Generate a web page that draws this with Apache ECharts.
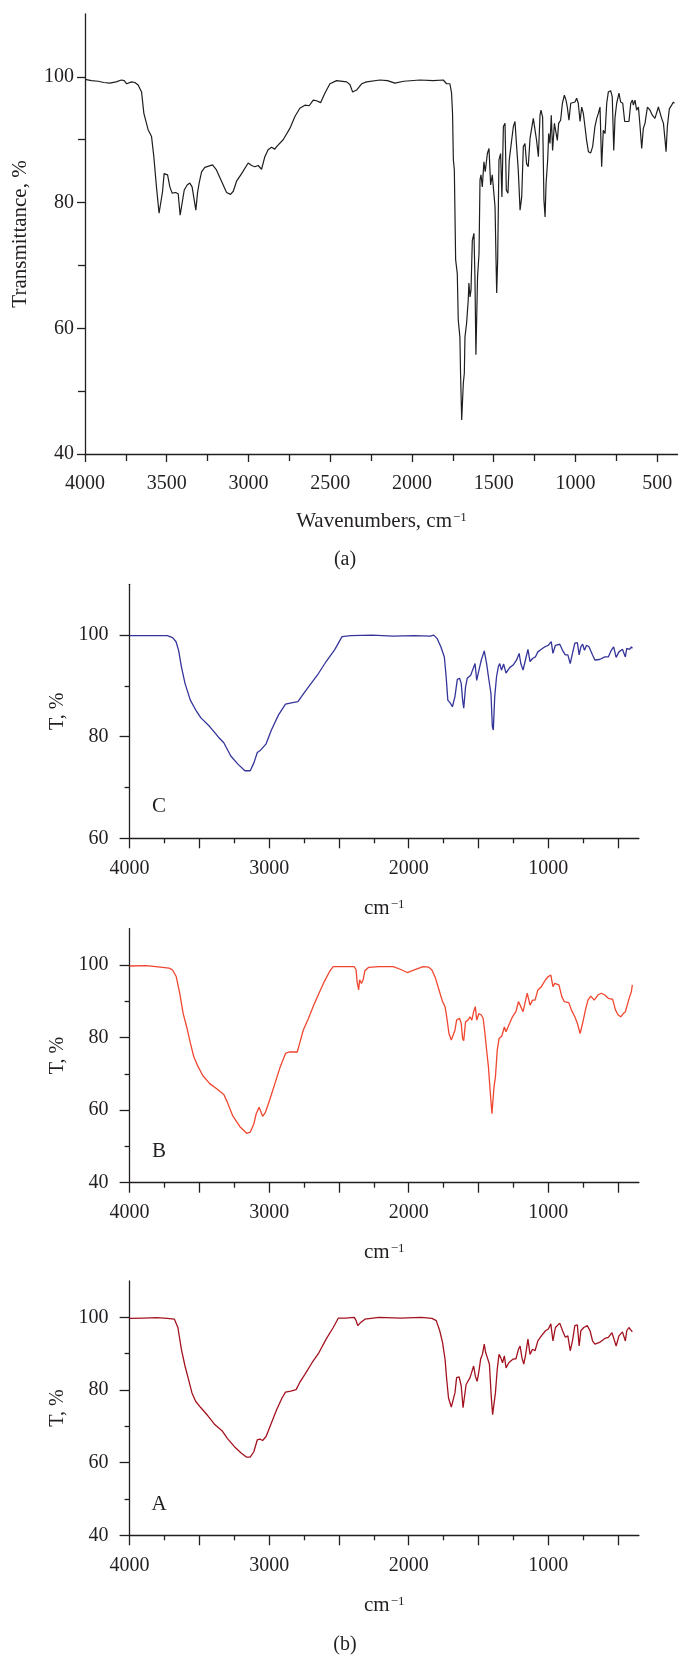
<!DOCTYPE html>
<html><head><meta charset="utf-8">
<script src="https://cdn.jsdelivr.net/npm/echarts@6/dist/echarts.min.js"></script>
<style>html,body{margin:0;padding:0;background:#fff}#chart{width:678px;height:1659px}</style>
</head><body><div id="chart"></div>
<script>
// ---------- DATA ----------
// Panel (a): [wavenumber cm-1, transmittance %]
const spectrumTop = [
[4000,99.6],[3960,99.4],[3920,99.3],[3885,99.1],[3848,99.0],[3810,99.2],[3777,99.5],[3760,99.4],[3745,98.9],[3736,98.8],[3715,99.2],[3695,99.1],[3675,98.7],[3654,97.6],[3640,94.2],[3614,91.6],[3593,90.5],[3579,87.3],[3563,82.5],[3547,78.3],[3536,78.0],[3526,81.7],[3516,84.6],[3506,84.9],[3495,84.4],[3481,82.5],[3467,81.5],[3446,81.6],[3430,81.4],[3418,78.0],[3408,78.3],[3393,82.0],[3375,82.8],[3359,83.1],[3345,82.5],[3332,80.4],[3322,78.8],[3312,81.5],[3302,83.1],[3287,84.9],[3267,85.6],[3220,86.0],[3196,85.2],[3165,83.4],[3134,81.6],[3110,81.3],[3093,81.8],[3073,83.4],[3042,84.6],[3002,86.3],[2981,85.9],[2961,85.7],[2941,85.9],[2920,85.3],[2900,87.3],[2880,88.4],[2859,88.8],[2839,88.5],[2828,88.9],[2788,90.0],[2747,91.8],[2716,93.7],[2686,95.0],[2655,95.5],[2629,95.4],[2604,96.3],[2584,96.2],[2559,95.9],[2533,97.4],[2502,98.9],[2461,99.4],[2400,99.2],[2380,98.8],[2363,97.6],[2339,97.9],[2308,98.9],[2278,99.2],[2196,99.5],[2150,99.4],[2105,99.0],[2050,99.3],[1951,99.5],[1870,99.4],[1809,99.5],[1788,98.9],[1778,98.7],[1768,98.9],[1758,97.4],[1752,94.2],[1747,86.8],[1741,85.2],[1733,70.9],[1723,68.7],[1717,61.3],[1707,58.6],[1703,52.8],[1696,45.4],[1690,45.7],[1686,51.3],[1680,52.8],[1676,58.6],[1666,60.8],[1656,64.5],[1652,67.2],[1645,65.0],[1639,66.1],[1631,74.0],[1621,75.1],[1615,68.2],[1609,55.8],[1603,55.8],[1599,68.2],[1590,71.9],[1584,83.6],[1578,84.4],[1570,82.5],[1560,86.5],[1552,84.9],[1539,87.8],[1529,88.6],[1519,82.8],[1509,84.4],[1501,84.1],[1492,79.3],[1486,70.9],[1482,65.6],[1476,70.9],[1468,86.8],[1458,87.8],[1450,80.9],[1441,92.1],[1431,92.6],[1423,82.0],[1413,81.5],[1405,86.8],[1390,90.0],[1380,92.1],[1370,92.9],[1360,88.9],[1350,85.2],[1339,78.8],[1329,80.9],[1319,88.9],[1309,89.4],[1299,86.2],[1289,85.7],[1278,90.2],[1268,90.0],[1258,93.4],[1248,93.1],[1238,89.9],[1227,87.3],[1217,93.9],[1211,94.7],[1201,93.6],[1193,80.4],[1186,77.7],[1180,83.0],[1170,86.8],[1164,91.0],[1156,89.4],[1148,93.9],[1140,88.3],[1129,92.6],[1119,92.9],[1111,89.9],[1103,92.6],[1091,93.1],[1080,95.8],[1068,97.1],[1058,96.3],[1050,95.2],[1040,93.1],[1029,95.8],[1017,95.5],[1003,96.0],[993,96.6],[983,95.8],[972,92.9],[962,95.2],[952,94.2],[942,92.1],[932,89.9],[921,88.1],[907,87.9],[895,88.9],[881,92.1],[870,93.4],[860,94.2],[850,95.2],[840,85.7],[830,91.5],[819,91.0],[809,95.8],[799,97.6],[785,97.8],[775,96.8],[766,88.3],[758,93.6],[748,95.8],[734,97.4],[724,96.0],[711,95.8],[699,92.9],[687,93.1],[673,92.9],[662,95.8],[652,96.3],[646,95.5],[636,96.3],[626,94.7],[615,95.2],[605,92.1],[595,88.6],[585,91.8],[575,92.6],[560,95.2],[544,94.7],[530,93.9],[514,93.4],[503,93.4],[493,95.2],[483,94.9],[473,93.4],[462,92.6],[452,89.9],[446,88.1],[438,92.1],[426,94.9],[412,95.5],[401,96.0],[395,95.8]
];
// Panel (b), trace C
const spectrumC = [
[4000,99.9],[3900,99.9],[3800,99.9],[3730,99.9],[3692,99.5],[3667,98.7],[3649,97.0],[3629,93.8],[3603,90.5],[3565,87.2],[3527,85.3],[3489,83.7],[3426,82.0],[3363,79.9],[3325,78.8],[3275,76.2],[3224,74.6],[3174,73.3],[3136,73.3],[3110,74.8],[3085,76.9],[3060,77.4],[3022,78.6],[2984,81.3],[2933,84.3],[2883,86.4],[2832,86.7],[2794,86.9],[2756,88.4],[2718,89.8],[2655,92.1],[2592,94.8],[2529,97.2],[2478,99.7],[2415,99.9],[2263,100],[2112,99.8],[1960,99.9],[1846,99.8],[1821,100],[1796,99.3],[1770,97.7],[1745,95.7],[1732,91.8],[1720,87.2],[1702,86.6],[1687,85.9],[1669,87.9],[1652,91.3],[1636,91.5],[1624,90.5],[1614,87.2],[1606,85.6],[1593,89.8],[1581,91.5],[1556,92.1],[1543,93.1],[1525,94.4],[1513,91.1],[1497,93.1],[1480,95.1],[1459,96.9],[1442,94.4],[1429,91.8],[1411,88.5],[1401,82.0],[1394,81.3],[1384,87.9],[1371,91.8],[1358,93.8],[1348,94.4],[1336,93.1],[1320,94.3],[1303,92.5],[1277,93.6],[1252,94.1],[1227,95.1],[1209,96.4],[1197,94.4],[1181,93.1],[1164,95.1],[1146,97.2],[1131,94.8],[1113,95.4],[1093,95.7],[1075,96.7],[1050,97.2],[1025,97.7],[1000,98.0],[979,98.7],[967,96.4],[949,98.0],[918,98.2],[898,97.0],[878,96.1],[860,96.1],[843,94.4],[827,96.4],[810,98.4],[792,98.5],[779,96.1],[767,97.7],[754,98.2],[741,97.0],[726,98.0],[709,97.7],[683,96.1],[666,95.1],[633,95.2],[595,95.7],[570,95.7],[549,97.0],[532,97.7],[514,95.6],[494,96.7],[469,97.2],[448,95.7],[438,97.4],[418,97.2],[405,97.7],[398,97.4]
];
// Panel (b), trace B
const spectrumB = [
[4000,99.7],[3881,99.8],[3780,99.4],[3717,99.1],[3692,98.6],[3666,96.8],[3641,92.2],[3616,86.6],[3591,82.9],[3565,78.5],[3540,74.7],[3515,72.4],[3477,69.6],[3426,67.3],[3376,65.9],[3325,64.3],[3300,62.2],[3262,58.5],[3211,55.5],[3161,53.6],[3136,53.9],[3110,56.2],[3093,59.0],[3072,60.8],[3060,60.4],[3047,58.3],[3027,59.4],[2997,62.7],[2959,67.3],[2921,71.9],[2883,75.6],[2857,76.0],[2799,76.0],[2782,78.3],[2756,82.0],[2718,85.3],[2681,88.9],[2643,92.2],[2605,95.4],[2567,98.2],[2541,99.5],[2466,99.5],[2390,99.5],[2377,98.6],[2370,95.4],[2359,93.1],[2352,95.9],[2339,94.9],[2327,95.9],[2314,98.4],[2289,99.3],[2213,99.5],[2112,99.5],[2061,98.8],[2011,97.9],[1960,98.6],[1897,99.5],[1859,99.4],[1834,98.6],[1808,96.3],[1783,93.1],[1758,89.9],[1740,88.5],[1728,85.7],[1712,81.1],[1695,79.3],[1682,79.1],[1669,82.0],[1657,84.8],[1636,85.3],[1624,83.9],[1614,79.7],[1606,79.1],[1593,84.3],[1576,84.8],[1561,85.7],[1548,84.8],[1535,87.1],[1523,88.5],[1513,84.8],[1497,86.6],[1480,86.2],[1467,85.3],[1454,81.1],[1442,76.5],[1429,71.9],[1417,65.4],[1404,59.0],[1396,58.5],[1389,66.4],[1379,69.1],[1366,76.5],[1353,79.7],[1333,80.4],[1315,82.9],[1303,81.6],[1277,83.9],[1257,85.7],[1232,87.1],[1214,89.9],[1197,88.5],[1181,87.1],[1169,87.1],[1151,92.2],[1143,92.6],[1131,88.9],[1113,90.3],[1095,90.3],[1075,93.1],[1050,94.0],[1020,95.9],[1000,96.8],[982,97.2],[967,94.0],[954,94.9],[924,94.5],[903,91.2],[886,89.9],[853,89.6],[835,87.6],[822,88.0],[810,85.7],[792,83.9],[772,81.1],[764,80.9],[752,84.3],[734,87.6],[716,90.3],[696,91.4],[683,91.2],[671,90.3],[645,91.7],[620,92.2],[595,91.7],[570,90.8],[539,90.5],[519,87.6],[499,86.2],[481,85.7],[463,86.6],[448,87.1],[438,86.6],[431,89.4],[418,91.2],[405,92.6],[398,94.5]
];
// Panel (b), trace A
const spectrumA = [
[4000,99.7],[3900,99.8],[3806,99.9],[3730,99.7],[3679,99.5],[3654,97.2],[3629,91.2],[3603,86.6],[3578,82.9],[3553,79.2],[3527,76.9],[3489,75.1],[3439,72.9],[3388,70.4],[3338,68.8],[3300,66.7],[3249,64.4],[3199,62.6],[3161,61.5],[3136,61.5],[3110,63.0],[3085,66.3],[3067,66.5],[3047,66.1],[3022,67.2],[2984,70.9],[2946,74.6],[2908,77.8],[2883,79.4],[2845,79.7],[2807,80.1],[2782,82.0],[2744,84.3],[2693,87.5],[2643,90.3],[2592,94.0],[2541,97.2],[2504,99.8],[2453,99.8],[2390,100],[2377,99.1],[2365,97.7],[2344,98.6],[2314,99.5],[2213,100],[2061,99.8],[1910,100],[1834,99.7],[1803,99.1],[1778,96.3],[1758,93.1],[1740,88.5],[1728,82.9],[1715,77.8],[1695,75.3],[1682,75.3],[1669,79.2],[1657,83.4],[1639,83.6],[1624,81.1],[1611,75.1],[1601,75.5],[1589,81.5],[1576,82.0],[1561,83.4],[1548,83.8],[1535,86.6],[1523,83.8],[1510,82.4],[1497,85.2],[1485,88.5],[1472,89.8],[1459,92.6],[1449,90.3],[1437,88.9],[1422,87.1],[1409,78.3],[1399,73.2],[1391,73.7],[1379,79.2],[1366,85.7],[1353,89.8],[1341,88.9],[1328,87.5],[1315,89.4],[1303,86.1],[1283,87.5],[1252,88.5],[1232,88.6],[1214,91.2],[1202,92.1],[1189,88.9],[1176,87.1],[1164,89.4],[1146,94.0],[1131,89.8],[1113,91.2],[1095,90.8],[1075,93.5],[1050,94.9],[1020,96.3],[1000,96.8],[982,98.2],[967,93.5],[949,97.2],[918,98.4],[898,96.3],[878,94.5],[860,94.9],[843,90.8],[827,93.5],[810,97.7],[792,97.9],[779,92.1],[767,96.3],[746,97.2],[734,96.8],[721,97.7],[701,96.3],[683,93.5],[666,92.6],[633,93.1],[595,94.2],[570,94.5],[544,95.8],[532,95.4],[514,92.1],[494,94.9],[469,96.0],[448,93.5],[438,96.3],[423,97.2],[411,96.8],[398,96.0]
];
// Tick labels / tick positions
const xLabelsTop = [4000,3500,3000,2500,2000,1500,1000,500];
const xMinorTop = [3750,3250,2750,2250,1750,1250,750];
const xLabelsBottom = [4000,3000,2000,1000];
const xMajorBottom = [4000,3500,3000,2500,2000,1500,1000,500];
const xMinorBottom = [3750,3250,2750,2250,1750,1250,750];
const yLabelsTop = [40,60,80,100];
const yMinorTop = [50,70,90];
const yLabelsC = [60,80,100];
const yMinorC = [70,90];
const yLabelsAB = [40,60,80,100];
const yMinorAB = [50,70,90];
const panelLetters = ['C','B','A'];
const colors = {top:'#1e1e1e', C:'#34349a', B:'#f0462f', A:'#a3121f'};

// ---------- CHART ----------
const INK = '#231f20';
const FONT = "'Liberation Serif','DejaVu Serif',serif";
const chart = echarts.init(document.getElementById('chart'), null, {renderer:'canvas', width:678, height:1659});

const grids = [
  {left:85, top:14, width:593, height:440},
  {left:129.6, top:584.3, width:509.3, height:254},
  {left:129.6, top:928.6, width:509.3, height:254.1},
  {left:129.6, top:1281, width:509.3, height:254.3}
];

const plain = (v) => String(Math.round(v));
const superName = (t) => '{n|' + t + '}{s|\u22121}';
const nameStyle = (fs) => ({fontFamily:FONT, color:INK, rich:{n:{fontFamily:FONT, fontSize:fs, color:INK}, s:{fontFamily:FONT, fontSize:Math.round(fs*0.62), color:INK, verticalAlign:'top', padding:[0,0,8,1]}}});

const xAxes = [], yAxes = [];
function addX(g, min, labels, major, minor, majLen, minLen, name, gap) {
  const base = {type:'value', gridIndex:g, inverse:true, min:min, max:4000, position:'bottom', splitLine:{show:false}};
  xAxes.push(Object.assign({}, base, {
    axisLine:{onZero:false, lineStyle:{color:INK, width:1.3}},
    axisTick:{customValues:major, length:majLen, lineStyle:{color:INK, width:1.3}},
    axisLabel:{customValues:labels, formatter:plain, fontFamily:FONT, fontSize:20, color:INK, margin:20},
    name:superName(name), nameLocation:'middle', nameGap:gap, nameTextStyle:nameStyle(21)
  }));
  xAxes.push(Object.assign({}, base, {
    axisLine:{show:false, onZero:false},
    axisTick:{customValues:minor, length:minLen, lineStyle:{color:INK, width:1.3}},
    axisLabel:{show:false}
  }));
}
function addY(g, min, labels, minor, majLen, minLen, margin, name, nameFs, gap) {
  const base = {type:'value', gridIndex:g, min:min, max:110, position:'left', splitLine:{show:false}};
  yAxes.push(Object.assign({}, base, {
    axisLine:{onZero:false, lineStyle:{color:INK, width:1.3}},
    axisTick:{customValues:labels, length:majLen, lineStyle:{color:INK, width:1.3}},
    axisLabel:{customValues:labels, formatter:plain, fontFamily:FONT, fontSize:20, color:INK, margin:margin},
    name:name, nameLocation:'middle', nameRotate:90, nameGap:gap,
    nameTextStyle:{fontFamily:FONT, fontSize:nameFs, color:INK}
  }));
  yAxes.push(Object.assign({}, base, {
    axisLine:{show:false, onZero:false},
    axisTick:{customValues:minor, length:minLen, lineStyle:{color:INK, width:1.3}},
    axisLabel:{show:false}
  }));
}
addX(0, 373, xLabelsTop, xLabelsTop, xMinorTop, 8, 7, 'Wavenumbers, cm', 57);
addX(1, 351, xLabelsBottom, xMajorBottom, xMinorBottom, 10, 5, 'cm', 60);
addX(2, 351, xLabelsBottom, xMajorBottom, xMinorBottom, 10, 5, 'cm', 59);
addX(3, 351, xLabelsBottom, xMajorBottom, xMinorBottom, 10, 5, 'cm', 60);
addY(0, 40, yLabelsTop, yMinorTop, 8, 7, 11, 'Transmittance, %', 21, 54);
addY(1, 60, yLabelsC, yMinorC, 10, 5, 21, 'T, %', 20, 56);
addY(2, 40, yLabelsAB, yMinorAB, 10, 5, 21, 'T, %', 20, 56);
addY(3, 40, yLabelsAB, yMinorAB, 10, 5, 21, 'T, %', 20, 56);

const mk = (data, g, color, w) => ({type:'line', data:data, xAxisIndex:g*2, yAxisIndex:g*2, showSymbol:false, symbol:'none', smooth:false, clip:true, lineStyle:{color:color, width:w}, silent:true});

const txt = (s, x, y, fs) => ({type:'text', x:x, y:y, style:{text:s, fontFamily:FONT, fontSize:fs, fill:INK, align:'center', verticalAlign:'middle', textAlign:'center', textVerticalAlign:'middle'}});

chart.setOption({
  animation:false,
  backgroundColor:'#fff',
  grid:grids,
  xAxis:xAxes,
  yAxis:yAxes,
  series:[
    mk(spectrumTop, 0, colors.top, 1.2),
    mk(spectrumC, 1, colors.C, 1.3),
    mk(spectrumB, 2, colors.B, 1.3),
    mk(spectrumA, 3, colors.A, 1.3)
  ],
  graphic:[
    txt('(a)', 345, 560, 20),
    txt(panelLetters[0], 159, 806, 21),
    txt(panelLetters[1], 159, 1151, 21),
    txt(panelLetters[2], 159, 1504, 21),
    txt('(b)', 345, 1645, 20)
  ]
});
</script></body></html>
